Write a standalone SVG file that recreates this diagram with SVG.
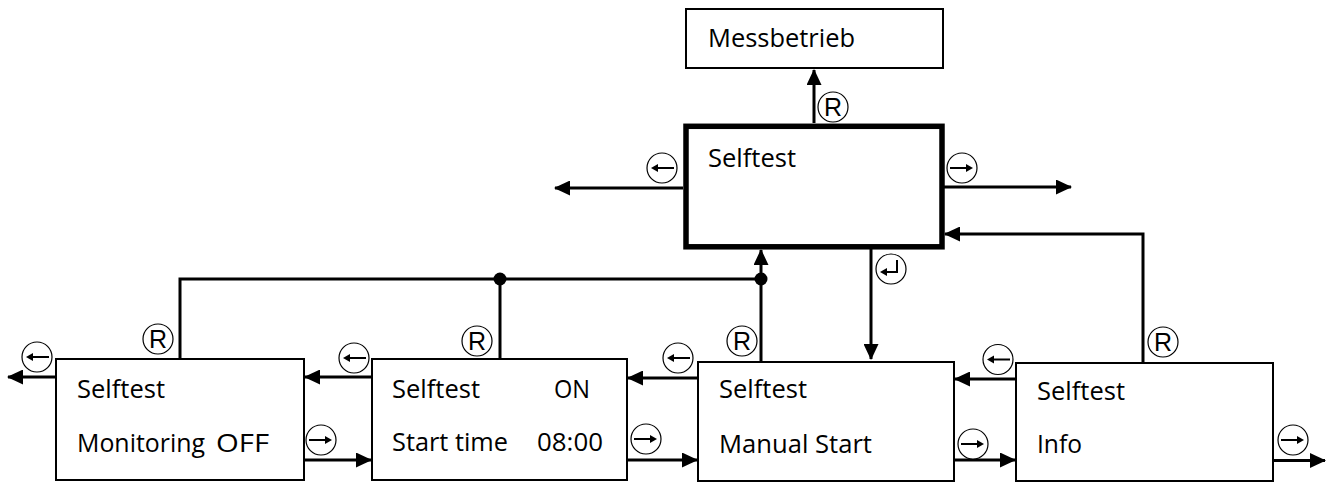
<svg xmlns="http://www.w3.org/2000/svg" xmlns:xlink="http://www.w3.org/1999/xlink" width="1330" height="483" viewBox="0 0 1330 483">
<style>
.box{fill:#fff;stroke:#000;stroke-width:2}
.main{fill:#fff;stroke:#000;stroke-width:5.5}
.lbl{font-family:"Open Sans","Liberation Sans",sans-serif;font-size:26px;fill:#000}
.con{fill:none;stroke:#000;stroke-width:3}
.ic{fill:#fff;stroke:#000;stroke-width:1.2}
.icl{fill:none;stroke:#000;stroke-width:2}
.r{font-family:"Liberation Sans",Arial,sans-serif;font-size:25px;fill:#000;text-anchor:middle}
</style>
<defs>
<marker id="ah" markerUnits="userSpaceOnUse" markerWidth="17" markerHeight="15" refX="15" refY="7.5" orient="auto">
<path d="M0,0 L16,7.5 L0,15 z" fill="#000"/>
</marker>
<g id="iL"><circle class="ic" r="15"/><path class="icl" d="M12,0 H-6"/><path d="M-11,0 L-4,-4 L-4,4 z" fill="#000"/></g>
<g id="iR"><circle class="ic" r="15"/><path class="icl" d="M-12,0 H6"/><path d="M11,0 L4,-4 L4,4 z" fill="#000"/></g>
<g id="iE"><circle class="ic" r="15"/><path class="icl" d="M6,-9 V3 H-6"/><path d="M-11,3 L-4,-1 L-4,7 z" fill="#000"/></g>
<g id="iX"><circle class="ic" r="15"/><text class="r" y="9">R</text></g>
</defs>

<g id="connectors">
<path class="con" d="M814,123 V70" marker-end="url(#ah)"/>
<path class="con" d="M683,188 H555" marker-end="url(#ah)"/>
<path class="con" d="M944,187 H1071" marker-end="url(#ah)"/>
<path class="con" d="M1143,363 V234 H945" marker-end="url(#ah)"/>
<path class="con" d="M871,249 V359" marker-end="url(#ah)"/>
<path class="con" d="M761,362 V250" marker-end="url(#ah)"/>
<path class="con" d="M180,359 V279 H761"/>
<path class="con" d="M500,359 V279"/>
<circle cx="500" cy="279" r="6.5" fill="#000"/>
<circle cx="761" cy="279" r="6.5" fill="#000"/>
<path class="con" d="M56,377 H8" marker-end="url(#ah)"/>
<path class="con" d="M372,377 H305" marker-end="url(#ah)"/>
<path class="con" d="M698,378 H628" marker-end="url(#ah)"/>
<path class="con" d="M1016,379 H955" marker-end="url(#ah)"/>
<path class="con" d="M304,460 H371" marker-end="url(#ah)"/>
<path class="con" d="M627,460 H697" marker-end="url(#ah)"/>
<path class="con" d="M954,460 H1015" marker-end="url(#ah)"/>
<path class="con" d="M1273,460.5 H1325" marker-end="url(#ah)"/>
<use xlink:href="#iX" x="833" y="107"/>
<use xlink:href="#iL" x="662" y="168"/>
<use xlink:href="#iR" x="962" y="168"/>
<use xlink:href="#iE" x="891" y="269"/>
<use xlink:href="#iX" x="158" y="339"/>
<use xlink:href="#iX" x="477" y="341"/>
<use xlink:href="#iX" x="742" y="341"/>
<use xlink:href="#iX" x="1163" y="342"/>
<use xlink:href="#iL" x="37" y="357"/>
<use xlink:href="#iL" x="354" y="358"/>
<use xlink:href="#iL" x="678" y="358"/>
<use xlink:href="#iL" x="998" y="359.5"/>
<use xlink:href="#iR" x="321" y="440"/>
<use xlink:href="#iR" x="646" y="439"/>
<use xlink:href="#iR" x="973" y="444"/>
<use xlink:href="#iR" x="1293" y="440"/>
</g>

<g id="messbetrieb">
<rect class="box" x="686" y="9" width="257" height="59"/>
<text class="lbl" x="708" y="47" textLength="147" lengthAdjust="spacingAndGlyphs">Messbetrieb</text>
</g>
<g id="selftest-main">
<rect class="main" x="686" y="126.3" width="256" height="120.5"/>
<text class="lbl" x="708" y="167" textLength="88" lengthAdjust="spacingAndGlyphs">Selftest</text>
</g>
<g id="monitoring">
<rect class="box" x="56" y="359" width="248" height="121"/>
<text class="lbl" x="77" y="398" textLength="88" lengthAdjust="spacingAndGlyphs">Selftest</text>
<text class="lbl" x="77" y="452" textLength="128" lengthAdjust="spacingAndGlyphs">Monitoring</text>
<text class="lbl" x="216" y="452" textLength="53" lengthAdjust="spacingAndGlyphs">OFF</text>
</g>
<g id="starttime">
<rect class="box" x="372" y="359" width="255" height="121"/>
<text class="lbl" x="392" y="398" textLength="88" lengthAdjust="spacingAndGlyphs">Selftest</text>
<text class="lbl" x="554" y="398" textLength="36" lengthAdjust="spacingAndGlyphs">ON</text>
<text class="lbl" x="392" y="451" textLength="116" lengthAdjust="spacingAndGlyphs">Start time</text>
<text class="lbl" x="537" y="451" textLength="66" lengthAdjust="spacingAndGlyphs">08:00</text>
</g>
<g id="manualstart">
<rect class="box" x="698" y="362" width="256" height="119"/>
<text class="lbl" x="719" y="398" textLength="88" lengthAdjust="spacingAndGlyphs">Selftest</text>
<text class="lbl" x="719" y="453" textLength="153" lengthAdjust="spacingAndGlyphs">Manual Start</text>
</g>
<g id="info">
<rect class="box" x="1016" y="363" width="257" height="118"/>
<text class="lbl" x="1037" y="400" textLength="88" lengthAdjust="spacingAndGlyphs">Selftest</text>
<text class="lbl" x="1037" y="453" textLength="45" lengthAdjust="spacingAndGlyphs">Info</text>
</g>
</svg>
